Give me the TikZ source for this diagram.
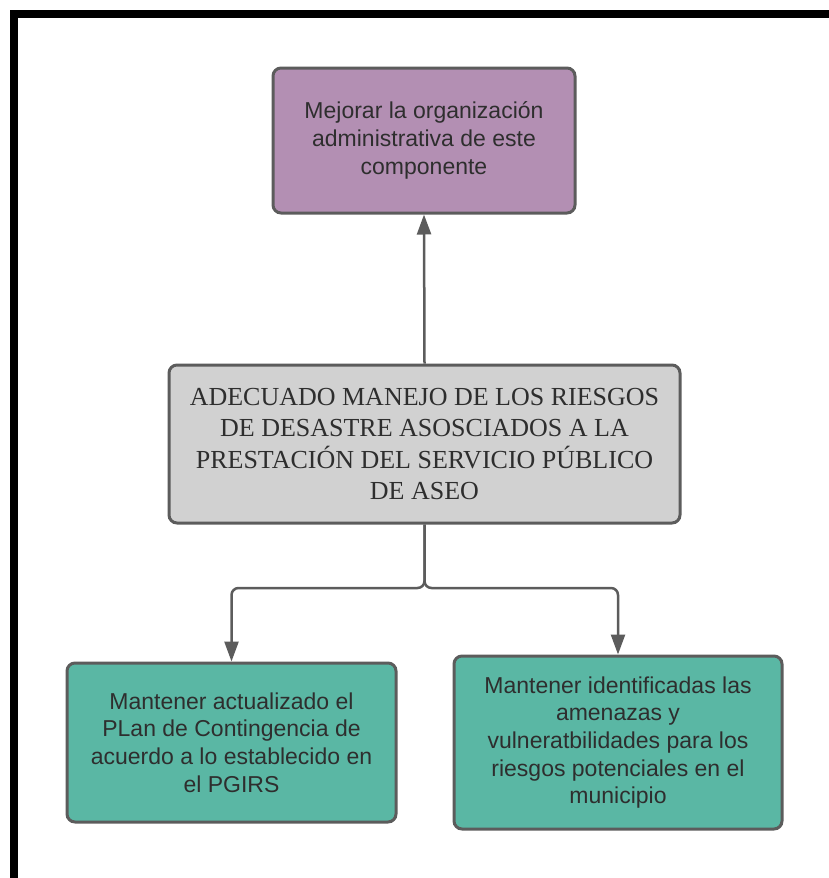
\documentclass[tikz,border=0pt]{standalone}
\usepackage{fontspec}
\setmainfont{Liberation Serif}
\setsansfont{Liberation Sans}
\usepackage{xcolor}
\usetikzlibrary{arrows.meta,positioning}

\definecolor{goalfill}{HTML}{B38FB3}
\definecolor{corefill}{HTML}{D1D1D1}
\definecolor{actfill}{HTML}{5AB7A4}
\definecolor{edgegray}{HTML}{5C5C5C}
\definecolor{inkgray}{HTML}{2E2E2E}

\begin{document}
\begin{tikzpicture}[
    x=1pt, y=-1pt,
    box/.style={draw=edgegray, line width=3pt, rounded corners=8pt, inner sep=0pt,
        align=center, text=inkgray, font=\sffamily\fontsize{23}{27.7}\selectfont},
    msg/.style={draw=edgegray, line width=2.5pt, rounded corners=7pt,
        -{Triangle[length=20pt,width=14pt]}}
]
    \useasboundingbox (0,0) rectangle (829,878);

    % Frame
    \fill[black] (10,10) rectangle (829,18);
    \fill[black] (10,10) rectangle (18,878);

    % Boxes
    \node[box, fill=goalfill, minimum width=302, minimum height=145] (goal) at (424,140.5)
        {Mejorar la organización\\administrativa de este\\componente};
    \node[box, fill=corefill, minimum width=511, minimum height=158,
        font=\rmfamily\fontsize{26}{31.3}\selectfont] (risk) at (424.5,444)
        {ADECUADO MANEJO DE LOS RIESGOS\\DE DESASTRE ASOSCIADOS A LA\\PRESTACIÓN DEL SERVICIO PÚBLICO\\DE ASEO};
    \node[box, fill=actfill, minimum width=329, minimum height=159] (plan) at (231.5,742.5)
        {Mantener actualizado el\\PLan de Contingencia de\\acuerdo a lo establecido en\\el PGIRS};
    \node[box, fill=actfill, minimum width=328, minimum height=173] (threat) at (618,742.5)
        {Mantener identificadas las\\amenazas y\\vulneratbilidades para los\\riesgos potenciales en el\\municipio};

    % Connectors
    \coordinate (split) at (424.5,588);
    \draw[msg] (risk.north) -- (goal.south);
    \draw[msg] (risk.south) -- (split) -| (plan.north);
    \draw[msg] (risk.south) -- (split) -| (threat.north);
\end{tikzpicture}
\end{document}
